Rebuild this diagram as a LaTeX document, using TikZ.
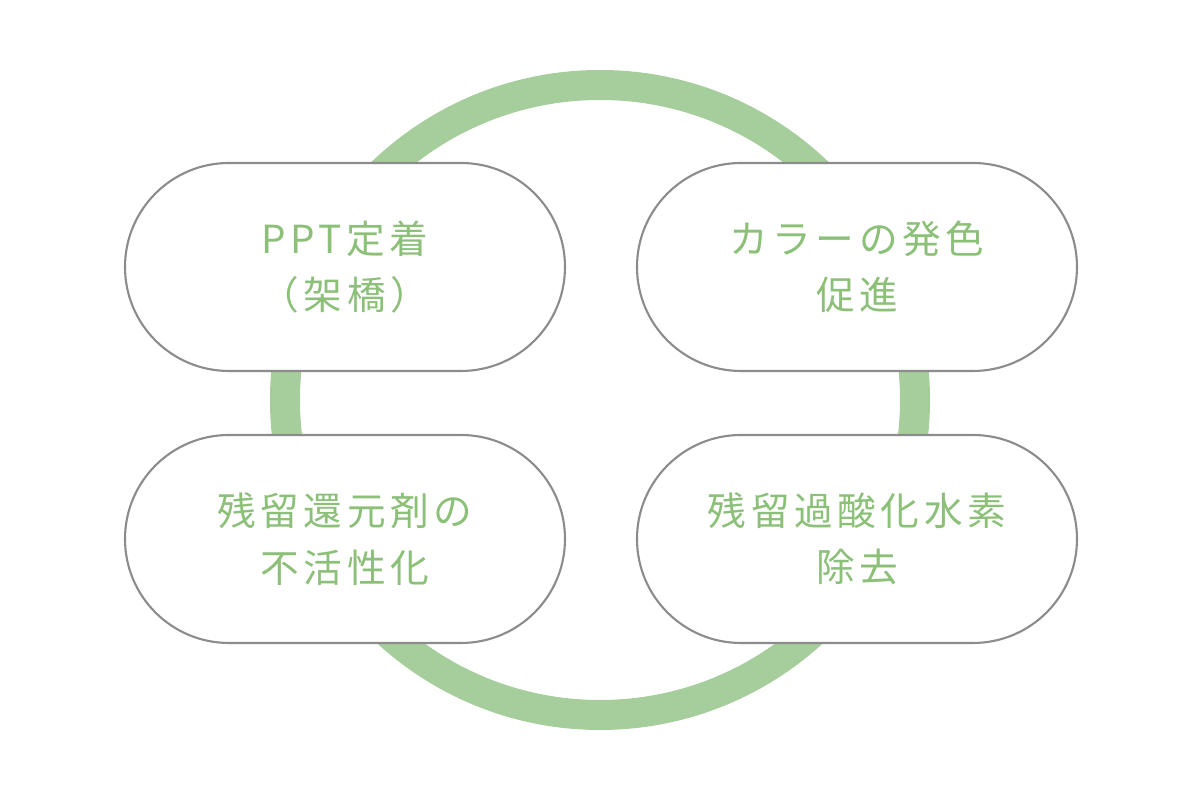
\documentclass[tikz,border=0pt]{standalone}
\usepackage{fontspec}
\newfontfamily\jpfont[LetterSpace=12]{Noto Sans CJK JP}
\definecolor{ringgreen}{RGB}{166,206,156}
\definecolor{textgreen}{RGB}{140,192,120}
\definecolor{boxgray}{RGB}{140,140,140}
\tikzset{
  pill/.style={draw=boxgray,line width=0.6pt,fill=white,rounded corners=1.04cm,
    minimum width=4.4cm,minimum height=2.08cm,align=center,
    text=textgreen,font=\jpfont\fontsize{11}{16}\selectfont}
}
\begin{document}
\begin{tikzpicture}
\useasboundingbox (0,0) rectangle (12,8);
\draw[ringgreen,line width=0.3cm] (6,4) circle (3.15);

\node[pill] (ppt) at (3.45,5.33) {PPT定着\\（架橋）};
\node[pill] (color) at (8.57,5.33) {カラーの発色\\促進};
\node[pill] (reduce) at (3.45,2.61) {残留還元剤の\\不活性化};
\node[pill] (perox) at (8.57,2.61) {残留過酸化水素\\除去};
\end{tikzpicture}
\end{document}
